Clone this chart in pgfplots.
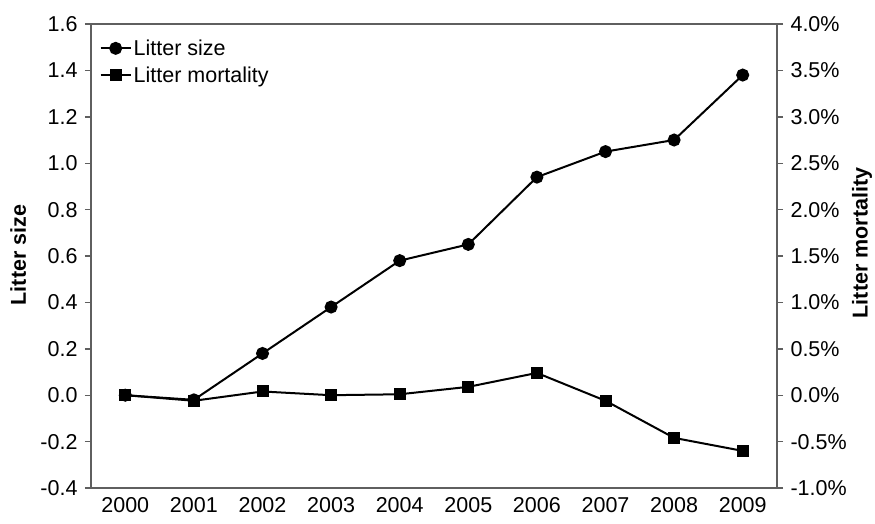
\documentclass[border=0pt]{standalone}
\usepackage{fontspec}
\setmainfont{Liberation Sans}
\usepackage{pgfplots}
\pgfplotsset{compat=1.18}
\definecolor{axisgray}{RGB}{95,95,95}

\begin{document}
\begin{tikzpicture}[font=\fontsize{21.5}{26}\selectfont]
\useasboundingbox (-91pt,-35pt) rectangle (784pt,488pt);
\pgfplotsset{
  common/.style={
    scale only axis, width=686pt, height=464pt,
    xmin=-0.5, xmax=9.5,
    xtick={0,1,2,3,4,5,6,7,8,9},
    axis line style={axisgray, line width=1.4pt},
    tick style={axisgray, line width=1.4pt},
    major tick length=6pt,
    tick align=outside,
    /pgf/number format/assume math mode=true,
    tick label style={font=\fontsize{21.5}{26}\selectfont},
    label style={font=\bfseries\fontsize{21.5}{26}\selectfont},
  },
}
% left axis: litter size
\begin{axis}[common,
  ymin=-0.4, ymax=1.6,
  ytick={-0.4,-0.2,0,0.2,0.4,0.6,0.8,1.0,1.2,1.4,1.6},
  ytick pos=left, xtick pos=bottom,
  xtick style={draw=none},
  xticklabels={2000,2001,2002,2003,2004,2005,2006,2007,2008,2009},
  yticklabel style={xshift=-4pt, /pgf/number format/.cd, fixed, fixed zerofill, precision=1},
  ylabel={Litter size},
  ylabel style={at={(axis description cs:-0.106,0.502)}, anchor=center},
]
\addplot[black, line width=2pt, mark=*, mark size=5.5pt] coordinates {
  (0,0) (1,-0.02) (2,0.18) (3,0.38) (4,0.58) (5,0.65) (6,0.94) (7,1.05) (8,1.10) (9,1.38)
};
\end{axis}
% right axis: litter mortality (%)
\begin{axis}[common,
  axis x line=none, axis y line*=right,
  ymin=-1, ymax=4,
  ytick={-1,-0.5,0,0.5,1,1.5,2,2.5,3,3.5,4},
  yticklabel={\pgfmathprintnumber[fixed,fixed zerofill,precision=1]{\tick}\%},
  yticklabel style={xshift=4pt},
  ylabel={Litter mortality},
  ylabel style={at={(axis description cs:1.124,0.528)}, anchor=center},
  legend cell align=left,
  legend style={draw=none, fill=none, at={(axis description cs:0.008,0.975)}, anchor=north west,
    font=\fontsize{21.5}{26}\selectfont, row sep=6pt},
  legend image code/.code={\draw[mark repeat=2,mark phase=2] plot coordinates {(0pt,0pt) (15pt,0pt) (30pt,0pt)};},
]
\addlegendimage{black, line width=2pt, mark=*, mark size=5.5pt}
\addlegendentry{Litter size}
\addplot[black, line width=2pt, mark=square*, mark size=5pt] coordinates {
  (0,0) (1,-0.06) (2,0.04) (3,0) (4,0.01) (5,0.09) (6,0.24) (7,-0.06) (8,-0.46) (9,-0.60)
};
\addlegendentry{Litter mortality}
\end{axis}
\end{tikzpicture}
\end{document}
